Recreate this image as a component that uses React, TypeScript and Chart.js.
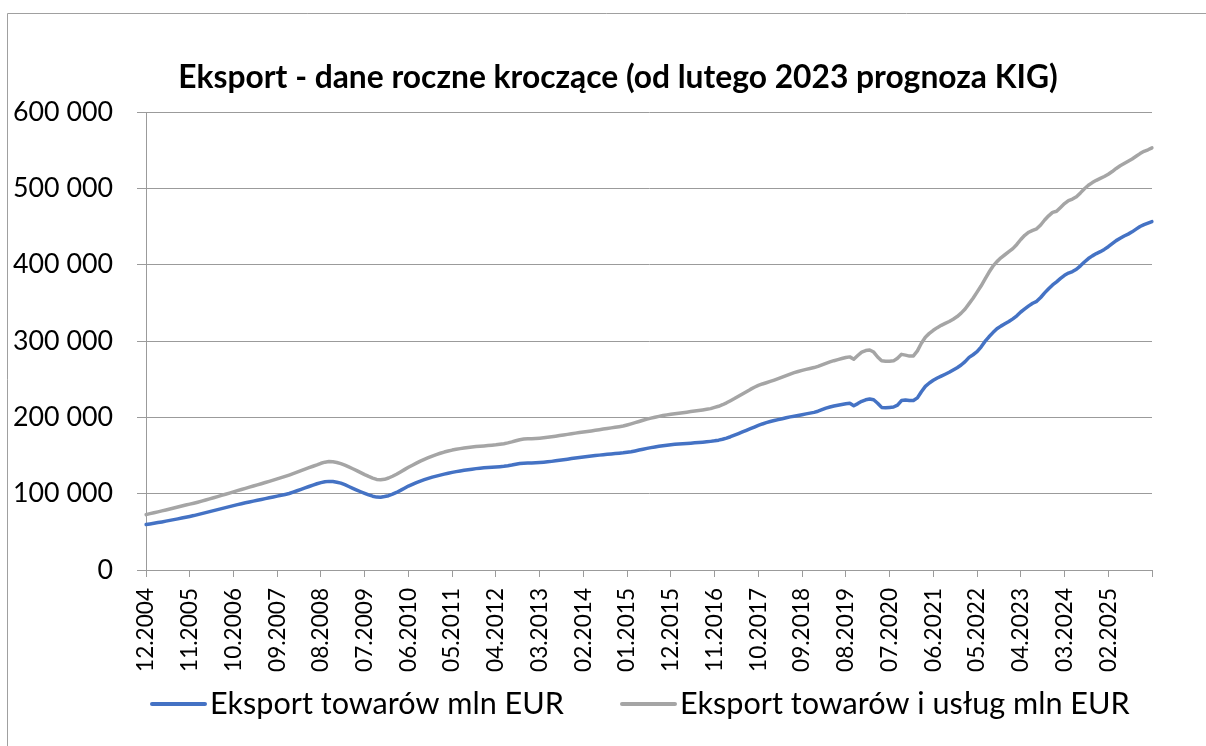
import React, { useEffect, useRef } from 'react';
import { Chart, registerables } from 'chart.js';

Chart.register(...registerables);

// ---------- data ----------
const TITLE = 'Eksport - dane roczne kroczące (od lutego 2023 prognoza KIG)';
const SERIES_NAMES = ['Eksport towarów mln EUR', 'Eksport towarów i usług mln EUR'];
const SERIES_COLORS = ['#4472C4', '#A5A5A5'];

// monthly, rolling 12-month sums, 12.2004 .. 01.2026
const EXPORT_GOODS: number[] = [
  59500,
  60300, 61200, 62100, 63000, 64000, 65000, 66000, 67000, 68000, 69100, 70200, 71300, // 2005
  72600, 73900, 75200, 76500, 77800, 79100, 80400, 81700, 83000, 84300, 85600, 86800, // 2006
  88000, 89100, 90200, 91300, 92400, 93500, 94600, 95700, 96800, 97900, 99000, 100200, // 2007
  102000, 103800, 105600, 107500, 109400, 111300, 113000, 114500, 115600, 116100, 115900, 115000, // 2008
  113800, 111800, 109400, 107000, 104700, 102500, 100400, 98400, 96700, 95500, 95300, 96200, // 2009
  97300, 99300, 101600, 104300, 107200, 110000, 112300, 114500, 116500, 118300, 120000, 121600, // 2010
  123000, 124300, 125600, 126800, 127900, 128900, 129800, 130600, 131400, 132100, 132800, 133400, // 2011
  133900, 134300, 134700, 135000, 135400, 135900, 136600, 137500, 138600, 139600, 140000, 140200, // 2012
  140300, 140500, 140800, 141200, 141700, 142300, 143000, 143700, 144400, 145200, 146000, 146800, // 2013
  147400, 148000, 148700, 149300, 149900, 150500, 151000, 151500, 152000, 152500, 153000, 153500, // 2014
  154200, 155000, 156000, 157100, 158200, 159300, 160300, 161200, 162000, 162800, 163500, 164100, // 2015
  164600, 165000, 165400, 165800, 166200, 166600, 167000, 167400, 167900, 168500, 169200, 170100, // 2016
  171300, 172800, 174600, 176600, 178700, 180800, 183000, 185100, 187300, 189400, 191300, 193000, // 2017
  194500, 195800, 197000, 198200, 199400, 200600, 201500, 202500, 203500, 204500, 205500, 206500, // 2018
  208000, 210000, 212000, 213500, 214800, 215800, 216800, 217800, 218500, 215200, 218000, 221000, // 2019
  223000, 224000, 223000, 218500, 213000, 212500, 213000, 213500, 216000, 222000, 222800, 222000, // 2020
  222000, 225500, 233500, 240500, 245000, 248500, 251500, 254000, 256500, 259000, 262000, 265000, // 2021
  268500, 273000, 278500, 282000, 286000, 292000, 299500, 305500, 311000, 316000, 319500, 322500, // 2022
  325500, 329000, 333000, 338000, 342000, 346000, 349500, 352000, 357000, 363000, 368500, 373500, // 2023
  377500, 382000, 386000, 389000, 391000, 394000, 398500, 403500, 408000, 411500, 414500, 417000, // 2024
  420000, 423500, 427500, 431500, 434500, 437500, 440000, 443000, 446500, 450000, 452500, 454500, // 2025
  456500, // 01.2026
];

const EXPORT_GOODS_SERVICES: number[] = [
  72500,
  73800, 75000, 76200, 77400, 78600, 79900, 81200, 82500, 83800, 85100, 86300, 87500, // 2005
  88800, 90200, 91700, 93200, 94700, 96200, 97700, 99200, 100800, 102400, 104000, 105500, // 2006
  107000, 108500, 110000, 111500, 113000, 114600, 116200, 117800, 119400, 121000, 122700, 124400, // 2007
  126200, 128100, 130100, 132100, 134000, 135900, 137700, 139800, 141300, 142000, 141700, 140800, // 2008
  139300, 137300, 135000, 132600, 130200, 127600, 125000, 122600, 120400, 118600, 118200, 118800, // 2009
  120500, 122800, 125500, 128500, 131500, 134500, 137300, 140000, 142600, 145000, 147200, 149300, // 2010
  151200, 152900, 154500, 155900, 157100, 158100, 159000, 159800, 160500, 161100, 161700, 162200, // 2011
  162600, 163000, 163500, 164000, 164700, 165500, 166500, 167800, 169300, 170700, 171500, 171800, // 2012
  172000, 172300, 172700, 173200, 173800, 174500, 175300, 176100, 176900, 177700, 178500, 179300, // 2013
  180000, 180700, 181400, 182200, 183000, 183800, 184600, 185400, 186200, 187000, 187800, 188600, // 2014
  190000, 191500, 193000, 194600, 196200, 197700, 199000, 200200, 201300, 202300, 203200, 204000, // 2015
  204700, 205400, 206100, 206800, 207500, 208200, 208900, 209700, 210500, 211400, 213000, 214500, // 2016
  216500, 219000, 221800, 224600, 227600, 230600, 233600, 236600, 239400, 241800, 243700, 245300, // 2017
  247000, 248800, 250700, 252700, 254700, 256700, 258500, 260100, 261500, 262800, 264000, 265200, // 2018
  266800, 268800, 270800, 272600, 274200, 275600, 277000, 278300, 279200, 276200, 281000, 285500, // 2019
  287500, 288200, 285500, 279000, 274000, 273500, 273500, 274000, 277500, 282500, 281500, 280200, // 2020
  280500, 287000, 297000, 305000, 310000, 314000, 317500, 320500, 323000, 325500, 328500, 332000, // 2021
  336500, 342000, 349000, 356000, 364000, 372000, 381000, 390000, 398000, 404000, 409000, 413000, // 2022
  417000, 421000, 426500, 433000, 438500, 442500, 445000, 447000, 452000, 458500, 464000, 468500, // 2023
  470000, 475000, 480000, 484000, 486000, 489000, 494000, 499500, 504000, 507500, 510500, 513000, // 2024
  515500, 518500, 522000, 526000, 529500, 532500, 535500, 538500, 542000, 545500, 548500, 550500, // 2025
  553000, // 01.2026
];

// categories: months "MM.YYYY" starting at 12.2004
const START_MONTH = 12;
const START_YEAR = 2004;
const CATEGORIES: string[] = EXPORT_GOODS.map((_, i) => {
  const k = START_MONTH - 1 + i;
  const m = (k % 12) + 1;
  const y = START_YEAR + Math.floor(k / 12);
  return `${String(m).padStart(2, '0')}.${y}`;
});
const LABEL_EVERY = 11;

const Y_MIN = 0;
const Y_MAX = 600000;
const Y_STEP = 100000;

// ---------- styling ----------
const FONT = 'Lato, "Noto Sans", sans-serif';
const GRID = '#9b9b9b';

function fitSize(text: string, target: number, weight = 'normal'): number {
  const c = document.createElement('canvas').getContext('2d') as CanvasRenderingContext2D;
  c.font = `${weight} 100px ${FONT}`;
  return (100 * target) / c.measureText(text).width;
}

function fmt(v: number): string {
  return String(Math.round(v)).replace(/\B(?=(\d{3})+(?!\d))/g, ' ');
}

export default function App() {
  const ref = useRef<HTMLCanvasElement | null>(null);

  useEffect(() => {
    if (!ref.current) return;
    const yFont = fitSize('600 000', 100);
    const xFont = fitSize('12.2004', 84);
    const legendFont = fitSize(SERIES_NAMES[0], 354);
    const titleFont = fitSize(TITLE, 880, 'bold');
    const LEGEND_X = [152, 622];

    const decor = {
      id: 'decor',
      beforeDraw(chart: any) {
        const ctx = chart.ctx as CanvasRenderingContext2D;
        ctx.save();
        ctx.fillStyle = '#ffffff';
        ctx.fillRect(0, 0, chart.width, chart.height);
        ctx.strokeStyle = '#a0a0a0';
        ctx.lineWidth = 1;
        ctx.beginPath();
        ctx.moveTo(7.5, chart.height);
        ctx.lineTo(7.5, 13.5);
        ctx.lineTo(chart.width, 13.5);
        ctx.stroke();
        ctx.restore();
      },
      afterDraw(chart: any) {
        const ctx = chart.ctx as CanvasRenderingContext2D;
        ctx.save();
        // title
        ctx.fillStyle = '#000000';
        ctx.font = `bold ${titleFont}px ${FONT}`;
        ctx.textAlign = 'center';
        ctx.textBaseline = 'alphabetic';
        ctx.fillText(TITLE, 618, 88);
        // legend
        ctx.font = `${legendFont}px ${FONT}`;
        ctx.textAlign = 'left';
        const lineY = 704;
        const textY = 714;
        chart.data.datasets.forEach((ds: any, i: number) => {
          const x = LEGEND_X[i];
          ctx.strokeStyle = ds.borderColor;
          ctx.lineWidth = 4;
          ctx.lineCap = 'round';
          ctx.beginPath();
          ctx.moveTo(x, lineY);
          ctx.lineTo(x + 53, lineY);
          ctx.stroke();
          ctx.fillStyle = '#000000';
          ctx.fillText(ds.label, x + 58, textY);
        });
        ctx.restore();
      },
    };

    const last = CATEGORIES.length - 1;
    const chart = new Chart(ref.current, {
      type: 'line',
      data: {
        labels: CATEGORIES,
        datasets: [
          {
            label: SERIES_NAMES[0],
            data: EXPORT_GOODS,
            borderColor: SERIES_COLORS[0],
            backgroundColor: SERIES_COLORS[0],
            borderWidth: 3.5,
            pointRadius: 0,
            tension: 0,
            borderJoinStyle: 'round',
            borderCapStyle: 'round',
          },
          {
            label: SERIES_NAMES[1],
            data: EXPORT_GOODS_SERVICES,
            borderColor: SERIES_COLORS[1],
            backgroundColor: SERIES_COLORS[1],
            borderWidth: 3.5,
            pointRadius: 0,
            tension: 0,
            borderJoinStyle: 'round',
            borderCapStyle: 'round',
          },
        ],
      },
      options: {
        responsive: false,
        animation: false,
        events: [],
        layout: { padding: { top: 112, bottom: 56, left: 0, right: 54 } },
        plugins: {
          legend: { display: false },
          title: { display: false },
          tooltip: { enabled: false },
        },
        scales: {
          x: {
            type: 'category',
            offset: false,
            grid: {
              drawOnChartArea: false,
              drawTicks: true,
              tickLength: 7,
              lineWidth: 1,
              color: (c: any) => (c.index % LABEL_EVERY === 0 || c.index === last ? GRID : 'rgba(0,0,0,0)'),
            },
            border: { display: true, color: GRID, width: 1 },
            ticks: {
              autoSkip: false,
              maxRotation: 90,
              minRotation: 90,
              padding: 11,
              color: '#000000',
              font: { family: FONT, size: xFont },
              callback: (_v: any, i: number) => (i % LABEL_EVERY === 0 && i < last ? CATEGORIES[i] : ''),
            },
            afterFit: (s: any) => {
              s.height = 120;
            },
          },
          y: {
            min: Y_MIN,
            max: Y_MAX,
            grid: { color: GRID, lineWidth: 1, tickLength: 9, drawTicks: true },
            border: { display: true, color: GRID, width: 1 },
            ticks: {
              stepSize: Y_STEP,
              padding: 24,
              color: '#000000',
              font: { family: FONT, size: yFont },
              callback: (v: any) => fmt(Number(v)),
            },
            afterFit: (s: any) => {
              s.width = 146;
            },
          },
        },
      },
      plugins: [decor],
    } as any);

    return () => chart.destroy();
  }, []);

  return (
    <div style={{ position: 'absolute', left: 0, top: 0, width: 1206, height: 746, background: '#fff' }}>
      <canvas ref={ref} width={1206} height={746} style={{ display: 'block', width: 1206, height: 746 }} />
    </div>
  );
}
